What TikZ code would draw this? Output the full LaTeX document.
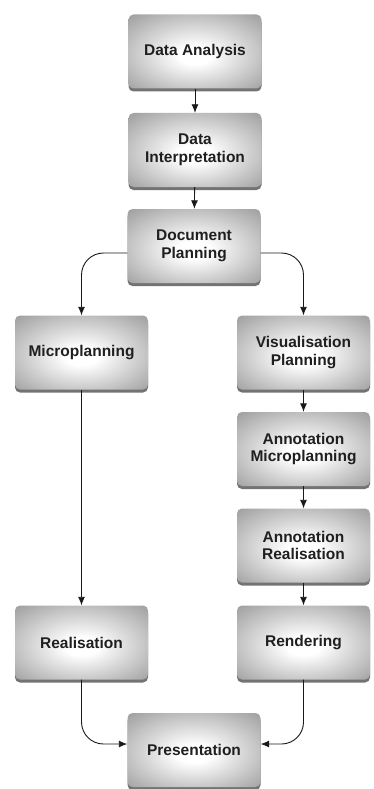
\documentclass[tikz,border=0pt]{standalone}
\usepackage{fontspec}
\setmainfont{Liberation Sans}
\usetikzlibrary{shadows,arrows.meta}

\pgfdeclareradialshading{boxglow}{\pgfpoint{0bp}{-3bp}}{color(0bp)=(white); color(6bp)=(white); color(36bp)=(black!38); color(50bp)=(black!52)}

\begin{document}
\begin{tikzpicture}[x=1pt,y=-1pt,
    stage/.style={rounded corners=5pt,shading=boxglow,minimum width=133pt,minimum height=74pt,
        inner sep=2pt,align=center,text=black!88,font=\fontsize{15.5}{17.5}\selectfont\bfseries,
        drop shadow={shadow xshift=0pt,shadow yshift=-3pt,opacity=0.55,fill=black}},
    flow/.style={line width=0.9pt,black!90,-{Latex[length=8.5pt,width=7pt]}},
    elbow/.style={flow,rounded corners=22pt}]
\useasboundingbox (0,0) rectangle (373,789);
    % main column
    \node[stage] (analysis) at (195,51.5) {Data Analysis};
    \node[stage] (interp) at (195,150) {Data\\Interpretation};
    \node[stage] (docplan) at (194,246) {Document\\Planning};
    % text branch
    \node[stage] (microplan) at (81.5,352.5) {Microplanning};
    \node[stage] (realis) at (81.5,642.5) {Realisation};
    % graphics branch
    \node[stage] (visplan) at (303.5,352.5) {Visualisation\\Planning};
    \node[stage] (annmicro) at (303.5,449) {Annotation\\Microplanning};
    \node[stage] (annreal) at (303.5,545.5) {Annotation\\Realisation};
    \node[stage] (render) at (303.5,642.5) {Rendering};
    % output
    \node[stage] (present) at (194,750) {Presentation};

    \draw[flow] (analysis) -- (interp);
    \draw[flow] (interp) -- (docplan);
    \draw[elbow] ([yshift=-7pt]docplan.west) -| (microplan.north);
    \draw[elbow] ([yshift=-7pt]docplan.east) -| (visplan.north);
    \draw[flow] (microplan) -- (realis);
    \draw[flow] (visplan) -- (annmicro);
    \draw[flow] (annmicro) -- (annreal);
    \draw[flow] (annreal) -- (render);
    \draw[elbow] (realis.south) |- ([yshift=6pt]present.west);
    \draw[elbow] (render.south) |- ([yshift=6pt]present.east);
\end{tikzpicture}
\end{document}
